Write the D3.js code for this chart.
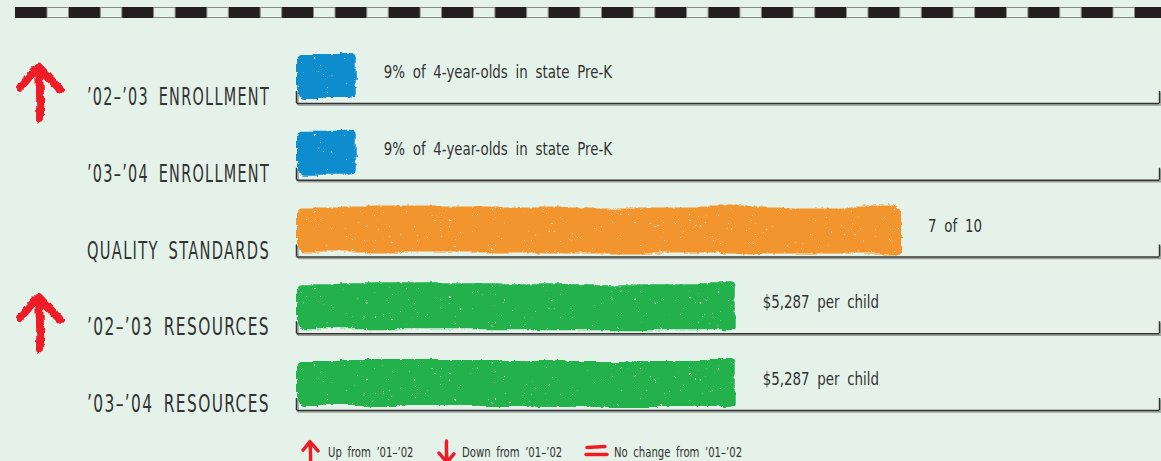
<!DOCTYPE html>
<html>
<head>
<meta charset="utf-8">
<script src="https://cdn.jsdelivr.net/npm/d3@7"></script>
<style>
  body { margin: 0; background: #e4f2ea; }
  svg { display: block; }
  text { font-family: "Liberation Sans Narrow", "DejaVu Sans Condensed", "Roboto", sans-serif; fill: #333; }
</style>
</head>
<body>
<div id="chart"></div>
<script>
// rows of the chart
const rowLabels = ["\u201902\u2013\u201903 ENROLLMENT", "\u201903\u2013\u201904 ENROLLMENT", "QUALITY STANDARDS", "\u201902\u2013\u201903 RESOURCES", "\u201903\u2013\u201904 RESOURCES"];
const rowMetric = ["enrollment", "enrollment", "quality", "resources", "resources"];
const rowValues = [9, 9, 7, 5287, 5287];
const valueLabels = ["9% of 4-year-olds in state Pre-K", "9% of 4-year-olds in state Pre-K", "7 of 10", "$5,287 per child", "$5,287 per child"];
const rowChange = ["up", null, null, "up", null];

// one scale per metric
const metricNames = ["enrollment", "quality", "resources"];
const metricMax = [130, 10, 10400];
const metricColors = ["#0a8dcd", "#f3952e", "#20b14c"];

// legend
const legendKeys = ["up", "down", "same"];
const legendLabels = ["Up from \u201901\u2013\u201902", "Down from \u201901\u2013\u201902", "No change from \u201901\u2013\u201902"];

const width = 1161, height = 461;
const red = "#ee1f27";

const svg = d3.select("#chart").append("svg")
  .attr("width", width)
  .attr("height", height);

const defs = svg.append("defs");
const brush = defs.append("filter").attr("id", "brush")
  .attr("x", "-5%").attr("y", "-25%").attr("width", "110%").attr("height", "150%");
brush.append("feTurbulence").attr("type", "fractalNoise").attr("baseFrequency", "0.012 0.05")
  .attr("numOctaves", 2).attr("seed", 3).attr("result", "n");
brush.append("feDisplacementMap").attr("in", "SourceGraphic").attr("in2", "n").attr("scale", 11)
  .attr("xChannelSelector", "R").attr("yChannelSelector", "G").attr("result", "d1");
brush.append("feTurbulence").attr("type", "fractalNoise").attr("baseFrequency", "0.3")
  .attr("numOctaves", 1).attr("seed", 11).attr("result", "f");
brush.append("feDisplacementMap").attr("in", "d1").attr("in2", "f").attr("scale", 3)
  .attr("xChannelSelector", "R").attr("yChannelSelector", "G").attr("result", "d");
brush.append("feTurbulence").attr("type", "fractalNoise").attr("baseFrequency", "0.35")
  .attr("numOctaves", 2).attr("seed", 7).attr("result", "s");
brush.append("feColorMatrix").attr("in", "s").attr("type", "matrix")
  .attr("values", "0 0 0 0 0  0 0 0 0 0  0 0 0 0 0  40 0 0 0 -30.5").attr("result", "holes");
brush.append("feComposite").attr("in", "d").attr("in2", "holes").attr("operator", "out");

const rough = defs.append("filter").attr("id", "rough")
  .attr("x", "-20%").attr("y", "-20%").attr("width", "140%").attr("height", "140%");
rough.append("feTurbulence").attr("type", "fractalNoise").attr("baseFrequency", "0.15")
  .attr("numOctaves", 2).attr("seed", 5).attr("result", "n");
rough.append("feDisplacementMap").attr("in", "SourceGraphic").attr("in2", "n").attr("scale", 4)
  .attr("xChannelSelector", "R").attr("yChannelSelector", "G");

const roughSmall = defs.append("filter").attr("id", "roughSmall")
  .attr("x", "-20%").attr("y", "-20%").attr("width", "140%").attr("height", "140%");
roughSmall.append("feTurbulence").attr("type", "fractalNoise").attr("baseFrequency", "0.3")
  .attr("numOctaves", 1).attr("seed", 5).attr("result", "n");
roughSmall.append("feDisplacementMap").attr("in", "SourceGraphic").attr("in2", "n").attr("scale", 1.5)
  .attr("xChannelSelector", "R").attr("yChannelSelector", "G");

// squeeze text horizontally to get the condensed look
function squeeze(sel, factor) {
  sel.each(function () {
    const w = this.getComputedTextLength();
    d3.select(this).attr("textLength", w * factor).attr("lengthAdjust", "spacingAndGlyphs");
  });
}

// dashed top border
const dashStart = 15, dashPeriod = 53.3, dashLight = 21.5;
svg.append("rect").attr("x", dashStart).attr("y", 7).attr("width", width - dashStart).attr("height", 11)
  .attr("fill", "#231f20");
svg.append("g").selectAll("rect")
  .data(d3.range(21))
  .join("rect")
  .attr("x", (i) => 47 + i * dashPeriod)
  .attr("y", 7.5)
  .attr("width", dashLight)
  .attr("height", 10)
  .attr("fill", "#e4f2ea")
  .attr("stroke", "#8a8a8a")
  .attr("stroke-width", 1);

const y = d3.scalePoint()
  .domain(d3.range(rowLabels.length))
  .range([103, 410]);

const x0 = 296, x1 = 1159;
const xScales = metricNames.map((m, i) => d3.scaleLinear().domain([0, metricMax[i]]).range([x0, x1]));
const xFor = (i) => xScales[metricNames.indexOf(rowMetric[i])];
const colorFor = (i) => metricColors[metricNames.indexOf(rowMetric[i])];

const rows = svg.append("g").selectAll("g")
  .data(d3.range(rowLabels.length))
  .join("g")
  .attr("transform", (i) => "translate(0," + y(i) + ")");

// baseline axis with the two end ticks
rows.each(function (i) {
  const g = d3.select(this);
  const axis = d3.axisBottom(xFor(i))
    .tickValues(xFor(i).domain())
    .tickSize(-12)
    .tickSizeOuter(0)
    .tickFormat("");
  // soft shadow
  g.append("g").attr("transform", "translate(1.5,1.5)").call(axis)
    .call((a) => a.selectAll("path,line").attr("stroke", "#9a9f9c").attr("stroke-width", 1.5));
  g.append("g").call(axis)
    .call((a) => a.selectAll("path,line").attr("stroke", "#333").attr("stroke-width", 1.5));
});

// brush-stroke bars
rows.append("rect")
  .attr("x", (i) => xFor(i)(0) + 2)
  .attr("y", -49)
  .attr("width", (i) => xFor(i)(rowValues[i]) - xFor(i)(0) - 2)
  .attr("height", 46)
  .attr("rx", 5)
  .attr("fill", (i) => colorFor(i))
  .attr("filter", "url(#brush)");

rows.append("text")
  .attr("x", (i) => xFor(i)(rowValues[i]) + 28)
  .attr("y", -25)
  .attr("font-size", 17)
  .attr("word-spacing", 4)
  .text((i) => valueLabels[i])
  .call(squeeze, 0.875);

rows.append("text")
  .attr("x", 270)
  .attr("y", 2)
  .attr("text-anchor", "end")
  .attr("font-size", 25)
  .attr("letter-spacing", 2)
  .attr("word-spacing", 6)
  .attr("textLength", 183)
  .attr("lengthAdjust", "spacingAndGlyphs")
  .text((i) => rowLabels[i]);

function arrowPath(w, h) {
  // up arrow drawn in a w x h box, tip at top
  const p = d3.path();
  p.moveTo(w * 0.5, h);
  p.quadraticCurveTo(w * 0.52, h * 0.5, w * 0.46, h * 0.05);
  p.moveTo(0, h * 0.42);
  p.lineTo(w * 0.46, h * 0.03);
  p.lineTo(w, h * 0.45);
  return p.toString();
}

rows.filter((i) => rowChange[i] === "up")
  .append("path")
  .attr("transform", "translate(20,-38)")
  .attr("d", arrowPath(40, 54))
  .attr("fill", "none")
  .attr("stroke", red)
  .attr("stroke-width", 8)
  .attr("stroke-linecap", "round")
  .attr("stroke-linejoin", "round")
  .attr("filter", "url(#rough)");

// legend
const legendX = d3.scaleOrdinal().domain(legendKeys).range([303, 436, 585]);
const legend = svg.append("g").selectAll("g")
  .data(legendKeys)
  .join("g")
  .attr("transform", (k) => "translate(" + legendX(k) + ",441)");

legend.append("path")
  .attr("d", (k) => k === "same" ? "M2,6.5 L20,5.5 M1,13.5 L22,13.5" : arrowPath(15, 22))
  .attr("transform", (k) => k === "down" ? "rotate(180,9,11)" : null)
  .attr("fill", "none")
  .attr("stroke", red)
  .attr("stroke-width", (k) => k === "same" ? 3.5 : 3.5)
  .attr("stroke-linecap", "round")
  .attr("stroke-linejoin", "round")
  .attr("filter", "url(#roughSmall)");

legend.append("text")
  .attr("x", (k) => k === "same" ? 29 : k === "down" ? 26 : 25)
  .attr("y", 16)
  .attr("font-size", 14)
  .attr("word-spacing", 3)
  .text((k, i) => legendLabels[i])
  .call(squeeze, 0.8);
</script>
</body>
</html>
